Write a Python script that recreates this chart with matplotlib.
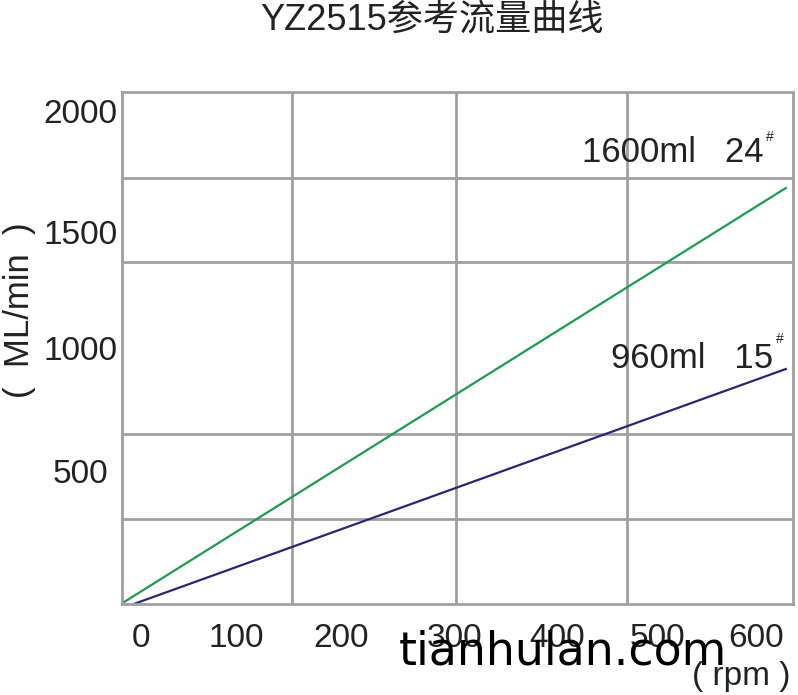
import matplotlib
matplotlib.use("Agg")
import matplotlib.pyplot as plt
import matplotlib.transforms as mtransforms

# ---- data ----
title = "YZ2515参考流量曲线"
x_label = "( rpm )"
y_label = "(  ML/min  )"

# tick labels and where they sit (rpm / ML/min units of the drawing)
x_tick_labels = ["0", "100", "200", "300", "400", "500", "600"]
x_tick_pos = [0, 93, 195, 306, 406, 504, 600]
y_tick_labels = ["500", "1000", "1500", "2000"]
y_tick_pos = [500, 1012, 1496, 2000]

# grid lines
x_grid = [147, 307, 474]
y_grid = [300, 654, 1012, 1371, 1721]

# pump lines
rpm_24 = [-18, 629]
flow_24 = [-50, 1679]
rpm_15 = [-7, 629]
flow_15 = [-54, 925]

W, H = 798, 695
fig = plt.figure(figsize=(W / 100, H / 100), dpi=100)

def fx(x):
    return x / W

def fy(y):
    return 1 - y / H

ax = fig.add_axes([fx(122), fy(604), fx(793) - fx(122), fy(92) - fy(604)])
ax.set_xlim(-18.5, 636)
ax.set_ylim(-54, 2079)

gray = "#a0a0a0"
ink = "#222222"
for s in ax.spines.values():
    s.set_color(gray)
    s.set_linewidth(2)

ax.set_xticks(x_tick_pos)
ax.set_xticklabels(x_tick_labels)
ax.set_yticks(y_tick_pos)
ax.set_yticklabels(y_tick_labels)
ax.set_xticks(x_grid, minor=True)
ax.set_yticks(y_grid, minor=True)
ax.tick_params(which="both", length=0)
ax.tick_params(axis="x", pad=14, labelsize=24, labelcolor=ink)
ax.tick_params(axis="y", pad=3, labelsize=24, labelcolor=ink)
for t in ax.get_xticklabels() + ax.get_yticklabels():
    t.set_family("Liberation Sans")
# the 500 label sits a bit further left in the original
lab = ax.get_yticklabels()[0]
lab.set_transform(lab.get_transform() +
                  mtransforms.ScaledTranslation(-0.1, 0, fig.dpi_scale_trans))
ax.grid(which="minor", color=gray, linewidth=2)
ax.grid(which="major", visible=False)

ax.plot(rpm_24, flow_24, color="#1f9a4e", linewidth=1.6, clip_on=False)
ax.plot(rpm_15, flow_15, color="#2b2670", linewidth=1.6, clip_on=False)

txt = dict(color=ink, family=["Liberation Sans", "Noto Sans CJK SC"])
fig.text(fx(763), fy(153), "1600ml   24", ha="right", va="center", fontsize=25, **txt)
fig.text(fx(766), fy(137), "#", ha="left", va="center", fontsize=10, **txt)
fig.text(fx(773), fy(359), "960ml   15", ha="right", va="center", fontsize=25, **txt)
fig.text(fx(776), fy(339), "#", ha="left", va="center", fontsize=10, **txt)

fig.text(fx(432), fy(20), title, ha="center", va="center", fontsize=26,
         color=ink, family=["Liberation Sans", "Noto Sans CJK SC"])
fig.text(fx(20), fy(310), y_label, ha="center", va="center", rotation=90,
         fontsize=25, **txt)
fig.text(fx(741), fy(677), x_label, ha="center", va="center", fontsize=24, **txt)

# site watermark
fig.text(fx(563), fy(652), "tianhulan.com", ha="center", va="center",
         fontsize=33, color="black", family="DejaVu Sans")

fig.savefig("out.png", dpi=100)
